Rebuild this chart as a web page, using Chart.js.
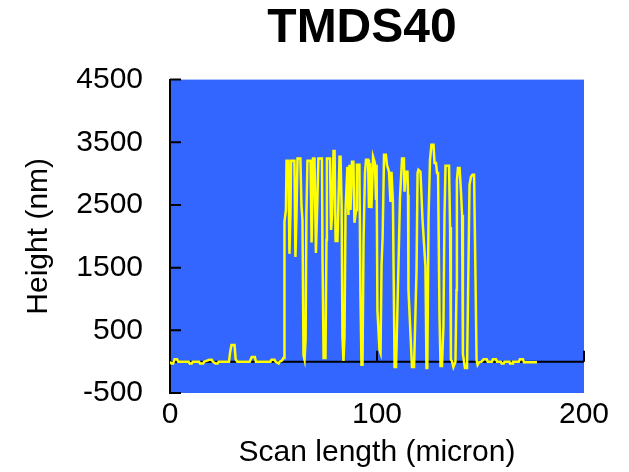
<!DOCTYPE html>
<html>
<head>
<meta charset="utf-8">
<title>TMDS40</title>
<script src="https://cdn.jsdelivr.net/npm/chart.js@4/dist/chart.umd.min.js"></script>
<style>
  html, body { margin: 0; padding: 0; background: #ffffff; }
  #wrap { width: 629px; height: 472px; }
</style>
</head>
<body>
<div id="wrap"><canvas id="profileChart" width="629" height="472"></canvas></div>
<script>
// profilometer trace (x in micron, y in nm)
const leftX = [0, 0.7, 1.5, 2.2, 3.4, 4.0, 9.0, 9.5, 10.5, 11.0,
  14.0, 14.5, 16.0, 16.5, 19.0, 20.2, 20.7, 22.0, 23.0, 23.5,
  27.0, 28.5, 29.0, 29.7, 31.2, 31.7, 32.5, 38.5, 39.5, 41.0,
  41.5, 48.5, 49.0, 50.5, 51.0, 52.5, 53.0, 54.2, 54.8];
const leftY = [0, -30, -30, 40, 40, 0, 0, -30, -30, 0,
  0, -30, -30, 0, 30, 30, 0, -30, -30, 0,
  0, 0, 140, 265, 265, 40, 0, 0, 75, 75,
  0, 0, 30, 30, 0, -30, 0, 20, 60];

const ridgeX = [55.1, 55.3, 56.0, 56.3, 57.2, 57.7, 58.2, 58.5, 60.1, 60.6,
  61.1, 61.6, 63.0, 63.5, 64.0, 64.5, 65.0, 65.5, 65.9, 66.4,
  67.9, 68.4, 68.8, 69.1, 69.8, 70.5, 71.0, 71.7, 73.4, 73.7,
  74.2, 75.1, 75.6, 75.8, 77.3, 77.8, 78.3, 79.0, 79.5, 80.0,
  80.9, 81.4, 81.9, 82.4, 82.9, 83.3, 83.8, 84.3, 84.8, 85.7,
  86.2, 86.7, 87.2, 87.9, 88.6, 89.1, 89.9, 90.3, 91.5, 92.0,
  92.5, 93.0, 93.5, 94.2, 94.7, 95.7, 96.1, 96.6, 97.3, 98.1,
  99.0, 99.5, 99.8, 100.2, 101.2, 101.7, 102.2, 102.7, 103.4, 104.3,
  104.8, 105.8, 106.5, 107.0, 107.7, 108.0, 108.5, 109.2, 110.4, 111.1,
  112.1, 113.0, 113.3, 113.8, 114.7, 115.0, 115.2, 116.9, 117.9, 118.4,
  119.1, 119.6, 120.0, 121.0, 122.0, 123.4, 123.9, 124.3, 124.9, 125.6,
  126.3, 127.3, 127.8, 128.5, 129.0, 129.5, 130.2, 130.7, 131.4, 132.1,
  132.6, 133.1, 134.8, 135.3, 135.7, 136.2, 136.9, 137.9, 138.4, 138.6,
  139.1, 139.9, 140.6, 141.1, 141.5, 142.5, 143.5, 144.0, 144.7, 145.4,
  146.1, 146.9, 147.6, 148.1, 148.6];
const ridgeY = [60, 2230, 2420, 3205, 3205, 1720, 2390, 3205, 3205, 1670,
  2340, 3240, 3240, 2500, 2260, 100, 30, 350, 2340, 3205,
  3205, 1900, 2580, 3240, 3240, 1735, 2340, 3240, 3240, 1620,
  60, 60, 1940, 3240, 3240, 2100, 2340, 3360, 3360, 1925,
  1925, 2580, 3270, 3270, 2500, 400, 10, 400, 2420, 3110,
  2340, 3140, 2420, 3190, 3190, 2215, 2420, 3140, 3140, 1100,
  -50, -50, 1940, 3010, 3220, 3220, 2450, 3170, 2450, 3270,
  3170, 2580, 3140, 820, 190, 140, 1540, 1970, 3300, 3300,
  3140, 3030, 2550, 3030, 2550, 1510, -85, -85, 1575, 2610,
  3240, 3240, 2710, 3030, 3030, 2660, 1145, -85, -85, 550,
  1460, 3010, 3060, 3030, 2260, 1520, -100, -100, 2310, 3220,
  3460, 3460, 3170, 3170, 3010, 3010, 710, -70, -70, 580,
  2310, 3125, 3125, 2150, 30, 10, -85, 0, 1145, 2890,
  3090, 3090, 2690, 2340, 120, -100, -100, 1120, 2820, 2950,
  2980, 2980, 1300, 30, -50];

const rightX = [149.3, 150.5, 151.5, 153.0, 153.5, 155.5, 156.0, 157.5, 158.0, 159.8,
  160.2, 161.2, 161.6, 164.0, 164.3, 165.3, 165.7, 168.5, 169.0, 170.5,
  171.0, 177.3];
const rightY = [-10, 0, 40, 40, 0, 0, 40, 40, 0, 0,
  -30, -30, 0, 0, -30, -30, 0, 0, 40, 40,
  -10, -10];

const xTicks = [0, 100, 200];
const yTicks = [-500, 500, 1500, 2500, 3500, 4500];

const scanX = leftX.concat(ridgeX, rightX);
const heightNm = leftY.concat(ridgeY, rightY);
const points = scanX.map((x, i) => ({ x: x, y: heightNm[i] }));

const FONT = "'Liberation Sans', Arial, sans-serif";
Chart.defaults.font.family = FONT;
Chart.defaults.color = '#000';

// blue plot area, zero axis with inward ticks, title nudge
const framePlugin = {
  id: 'framePlugin',
  beforeDraw(chart) {
    const { ctx, chartArea: a } = chart;
    ctx.save();
    ctx.fillStyle = '#3366FF';
    ctx.fillRect(a.left, a.top, a.right - a.left, a.bottom - a.top);
    ctx.restore();
  },
  beforeDatasetsDraw(chart) {
    const { ctx, chartArea: a } = chart;
    const xs = chart.scales.x, ys = chart.scales.y;
    const y0 = ys.getPixelForValue(0);
    ctx.save();
    ctx.strokeStyle = '#000';
    ctx.lineWidth = 2;
    ctx.beginPath();
    ctx.moveTo(a.left, y0);
    ctx.lineTo(a.right, y0);
    xs.ticks.forEach(t => {
      const px = xs.getPixelForValue(t.value);
      ctx.moveTo(px, y0);
      ctx.lineTo(px, y0 - 11);
    });
    ys.ticks.forEach(t => {
      const py = ys.getPixelForValue(t.value);
      ctx.moveTo(a.left, py);
      ctx.lineTo(a.left + 11, py);
    });
    ctx.stroke();
    ctx.restore();
  },
  afterLayout(chart) {
    if (chart.titleBlock) chart.titleBlock.left = chart.chartArea.left - 30;
  }
};

new Chart(document.getElementById('profileChart'), {
  type: 'scatter',
  data: {
    datasets: [{
      data: points,
      showLine: true,
      borderColor: '#FFFF00',
      borderWidth: 2.5,
      pointRadius: 0,
      pointHoverRadius: 0,
      fill: false,
      tension: 0
    }]
  },
  options: {
    responsive: false,
    animation: false,
    devicePixelRatio: 1,
    layout: { padding: { top: 0, right: 45, bottom: 0, left: 0 } },
    plugins: {
      legend: { display: false },
      tooltip: { enabled: false },
      title: {
        display: true,
        text: 'TMDS40',
        color: '#000',
        font: { size: 48, weight: 'bold', family: FONT },
        padding: { top: 0, bottom: 22 }
      }
    },
    scales: {
      x: {
        type: 'linear',
        min: 0,
        max: 200,
        afterBuildTicks: s => { s.ticks = xTicks.map(v => ({ value: v })); },
        afterFit: s => { s.height = 79; },
        grid: { display: false },
        border: { display: false },
        ticks: { color: '#000', padding: -4, maxRotation: 0, font: { size: 30 }, callback: v => String(v) },
        title: {
          display: true,
          text: 'Scan length (micron)',
          color: '#000',
          font: { size: 30 },
          padding: { top: 0, bottom: 1 }
        }
      },
      y: {
        type: 'linear',
        min: -500,
        max: 4500,
        afterBuildTicks: s => { s.ticks = yTicks.map(v => ({ value: v })); },
        afterFit: s => { s.width = 170; },
        grid: { display: true, drawOnChartArea: false, drawTicks: false },
        border: { display: true, color: '#000', width: 2 },
        ticks: { color: '#000', padding: 27, font: { size: 30 }, callback: v => String(v) },
        title: {
          display: true,
          text: 'Height (nm)',
          color: '#000',
          font: { size: 30 },
          padding: { top: 21, bottom: 0 }
        }
      }
    }
  },
  plugins: [framePlugin]
});
</script>
</body>
</html>
